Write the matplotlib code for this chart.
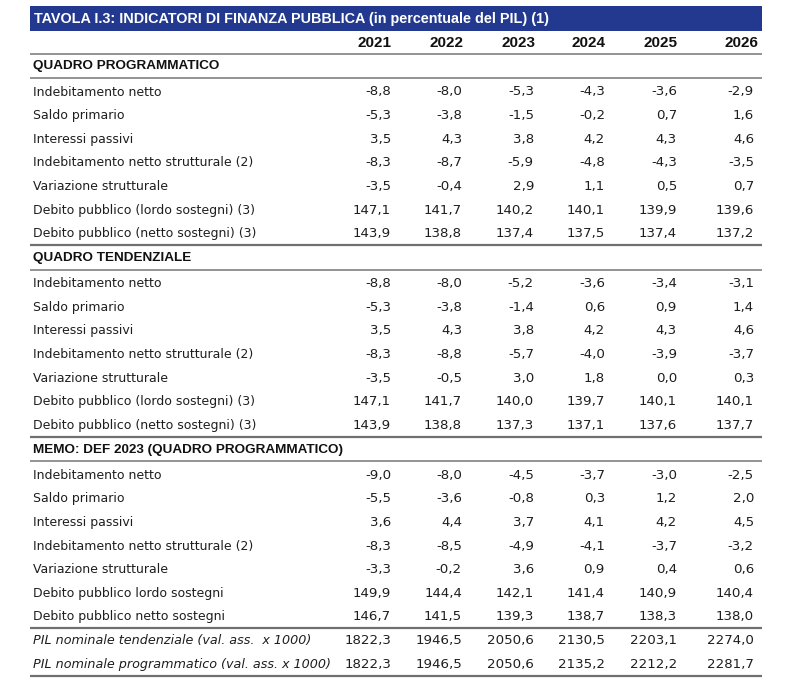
import matplotlib
matplotlib.use("Agg")
import matplotlib.pyplot as plt
from matplotlib.patches import Rectangle

title = "TAVOLA I.3: INDICATORI DI FINANZA PUBBLICA (in percentuale del PIL) (1)"
years = ["2021", "2022", "2023", "2024", "2025", "2026"]

sec1_title = "QUADRO PROGRAMMATICO"
sec1_labels = ["Indebitamento netto", "Saldo primario", "Interessi passivi",
               "Indebitamento netto strutturale (2)", "Variazione strutturale",
               "Debito pubblico (lordo sostegni) (3)", "Debito pubblico (netto sostegni) (3)"]
sec1_values = [
    ["-8,8", "-8,0", "-5,3", "-4,3", "-3,6", "-2,9"],
    ["-5,3", "-3,8", "-1,5", "-0,2", "0,7", "1,6"],
    ["3,5", "4,3", "3,8", "4,2", "4,3", "4,6"],
    ["-8,3", "-8,7", "-5,9", "-4,8", "-4,3", "-3,5"],
    ["-3,5", "-0,4", "2,9", "1,1", "0,5", "0,7"],
    ["147,1", "141,7", "140,2", "140,1", "139,9", "139,6"],
    ["143,9", "138,8", "137,4", "137,5", "137,4", "137,2"],
]

sec2_title = "QUADRO TENDENZIALE"
sec2_labels = sec1_labels
sec2_values = [
    ["-8,8", "-8,0", "-5,2", "-3,6", "-3,4", "-3,1"],
    ["-5,3", "-3,8", "-1,4", "0,6", "0,9", "1,4"],
    ["3,5", "4,3", "3,8", "4,2", "4,3", "4,6"],
    ["-8,3", "-8,8", "-5,7", "-4,0", "-3,9", "-3,7"],
    ["-3,5", "-0,5", "3,0", "1,8", "0,0", "0,3"],
    ["147,1", "141,7", "140,0", "139,7", "140,1", "140,1"],
    ["143,9", "138,8", "137,3", "137,1", "137,6", "137,7"],
]

sec3_title = "MEMO: DEF 2023 (QUADRO PROGRAMMATICO)"
sec3_labels = ["Indebitamento netto", "Saldo primario", "Interessi passivi",
               "Indebitamento netto strutturale (2)", "Variazione strutturale",
               "Debito pubblico lordo sostegni", "Debito pubblico netto sostegni"]
sec3_values = [
    ["-9,0", "-8,0", "-4,5", "-3,7", "-3,0", "-2,5"],
    ["-5,5", "-3,6", "-0,8", "0,3", "1,2", "2,0"],
    ["3,6", "4,4", "3,7", "4,1", "4,2", "4,5"],
    ["-8,3", "-8,5", "-4,9", "-4,1", "-3,7", "-3,2"],
    ["-3,3", "-0,2", "3,6", "0,9", "0,4", "0,6"],
    ["149,9", "144,4", "142,1", "141,4", "140,9", "140,4"],
    ["146,7", "141,5", "139,3", "138,7", "138,3", "138,0"],
]

pil_labels = ["PIL nominale tendenziale (val. ass.  x 1000)",
              "PIL nominale programmatico (val. ass. x 1000)"]
pil_values = [
    ["1822,3", "1946,5", "2050,6", "2130,5", "2203,1", "2274,0"],
    ["1822,3", "1946,5", "2050,6", "2135,2", "2212,2", "2281,7"],
]

# ---- layout (pixel coordinates, y downward) ----
W, H = 800, 682
fig = plt.figure(figsize=(W / 100, H / 100), dpi=100)
ax = fig.add_axes([0, 0, 1, 1])
ax.set_xlim(0, W)
ax.set_ylim(H, 0)
ax.axis("off")

X0, X1 = 30, 762
LABEL_X = 33
col_right = [391, 462, 534, 605, 677, 754]
year_right = [392, 463, 535, 606, 677, 758]
ROW_H = 23.65

NAVY = "#22398f"
LINE = "#8a8a8a"
TXT = "#1e1e1e"

bold_font = ["Liberation Sans", "DejaVu Sans"]
body = ["DejaVu Sans"]
FS_BODY = 9.0
FS_NUM = 9.6

ax.add_patch(Rectangle((X0, 6), X1 - X0, 25, facecolor=NAVY, edgecolor="none"))
ax.text(LABEL_X + 1, 19, title, color="white", fontsize=10.4, fontweight="bold",
        family=bold_font, va="center", ha="left")

def hline(y, lw=1.3, color=LINE):
    ax.plot([X0, X1], [y, y], color=color, lw=lw, solid_capstyle="butt")

y = 43
for yr, xr in zip(years, year_right):
    ax.text(xr, y, yr, fontsize=11, fontweight="bold", family=bold_font,
            ha="right", va="center", color="#111111")
hline(53.5)

def section(title_txt, labels, values, y_title):
    ax.text(LABEL_X, y_title, title_txt, fontsize=9.7, fontweight="bold", family=bold_font,
            ha="left", va="center", color="#111111")
    hline(y_title + 11.5)
    yy = y_title + 25.5
    for lab, vals in zip(labels, values):
        ax.text(LABEL_X, yy, lab, fontsize=FS_BODY, family=body, ha="left", va="center", color=TXT)
        for v, xr in zip(vals, col_right):
            ax.text(xr, yy, v, fontsize=FS_NUM, family=body, ha="right", va="center", color=TXT)
        yy += ROW_H
    line_y = yy - ROW_H + 11.5
    hline(line_y, lw=1.6, color="#707070")
    return line_y

end1 = section(sec1_title, sec1_labels, sec1_values, 66.5)
end2 = section(sec2_title, sec2_labels, sec2_values, end1 + 12.8)
end3 = section(sec3_title, sec3_labels, sec3_values, end2 + 12.5)

yy = end3 + 12.5
for lab, vals in zip(pil_labels, pil_values):
    ax.text(LABEL_X, yy, lab, fontsize=9.2, family=body, style="italic",
            ha="left", va="center", color=TXT)
    for v, xr in zip(vals, col_right):
        ax.text(xr, yy, v, fontsize=FS_NUM, family=body, ha="right", va="center", color=TXT)
    yy += ROW_H
hline(yy - ROW_H + 11.5, lw=1.6, color="#707070")

fig.savefig("out.png", dpi=100, facecolor="white")
